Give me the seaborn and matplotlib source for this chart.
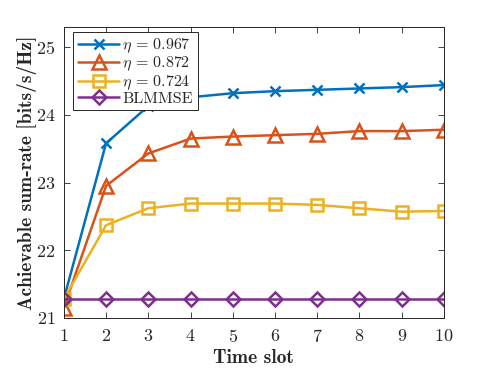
import matplotlib
matplotlib.use('Agg')
import matplotlib.pyplot as plt
import seaborn as sns
import pandas as pd

# ── Data ──────────────────────────────────────────────────────────────────────
time_slot = [1, 2, 3, 4, 5, 6, 7, 8, 9, 10]
eta_0967 = [21.28, 23.58, 24.13, 24.26, 24.32, 24.35, 24.37, 24.39, 24.41, 24.44]
eta_0872 = [21.15, 22.95, 23.43, 23.65, 23.68, 23.70, 23.72, 23.76, 23.76, 23.78]
eta_0724 = [21.28, 22.37, 22.62, 22.69, 22.69, 22.69, 22.67, 22.62, 22.57, 22.58]
blmmse = [21.28, 21.28, 21.28, 21.28, 21.28, 21.28, 21.28, 21.28, 21.28, 21.28]

labels = [r'$\eta\,=\,0.967$', r'$\eta\,=\,0.872$', r'$\eta\,=\,0.724$', 'BLMMSE']
series = [eta_0967, eta_0872, eta_0724, blmmse]

sns.set_style('ticks')
plt.rcParams['font.family'] = ['cmr10', 'DejaVu Serif']
plt.rcParams['mathtext.fontset'] = 'cm'
plt.rcParams['axes.unicode_minus'] = False
plt.rcParams['axes.formatter.use_mathtext'] = True

colors = ['#0072BD', '#D95319', '#EDB120', '#7E2F8E']
markers = ['x', '^', 's', 'D']
msizes = [7, 10, 9, 7]

fig = plt.figure(figsize=(4.91, 3.68), dpi=100)
ax = fig.add_axes([0.130, 0.136, 0.774, 0.791])

for vals, lab, c, m, ms in zip(series, labels, colors, markers, msizes):
    df = pd.DataFrame({'t': time_slot, 'r': vals})
    sns.lineplot(data=df, x='t', y='r', ax=ax, color=c, linewidth=1.8,
                 marker=m, markersize=ms,
                 markerfacecolor='none', markeredgecolor=c,
                 markeredgewidth=1.8, label=lab)

ax.set_xlim(1, 10)
ax.set_ylim(21, 25.3)
ax.set_xticks(time_slot)
ax.set_yticks([21, 22, 23, 24, 25])
ax.tick_params(direction='in', length=4, width=0.6, colors='#262626',
               labelsize=13, top=True, right=True)
ax.tick_params(axis='x', pad=7)
ax.tick_params(axis='y', pad=6)
for s in ax.spines.values():
    s.set_visible(True)
    s.set_linewidth(0.7)
    s.set_color('#262626')

ax.set_xlabel('Time slot', fontsize=14, family='cmb10', labelpad=3)
ax.set_ylabel('Achievable sum-rate [bits/s/Hz]', fontsize=14, family='cmb10', labelpad=-1)

leg = ax.legend(loc='upper left', bbox_to_anchor=(0.024, 0.983),
                fontsize=11.5, frameon=True, fancybox=False,
                edgecolor='#262626', framealpha=1, borderpad=0.3,
                handlelength=2.6, handletextpad=0.2, labelspacing=0.0,
                handleheight=0.6, borderaxespad=0)
leg.get_frame().set_linewidth(0.7)

fig.savefig('out.png', dpi=100)
